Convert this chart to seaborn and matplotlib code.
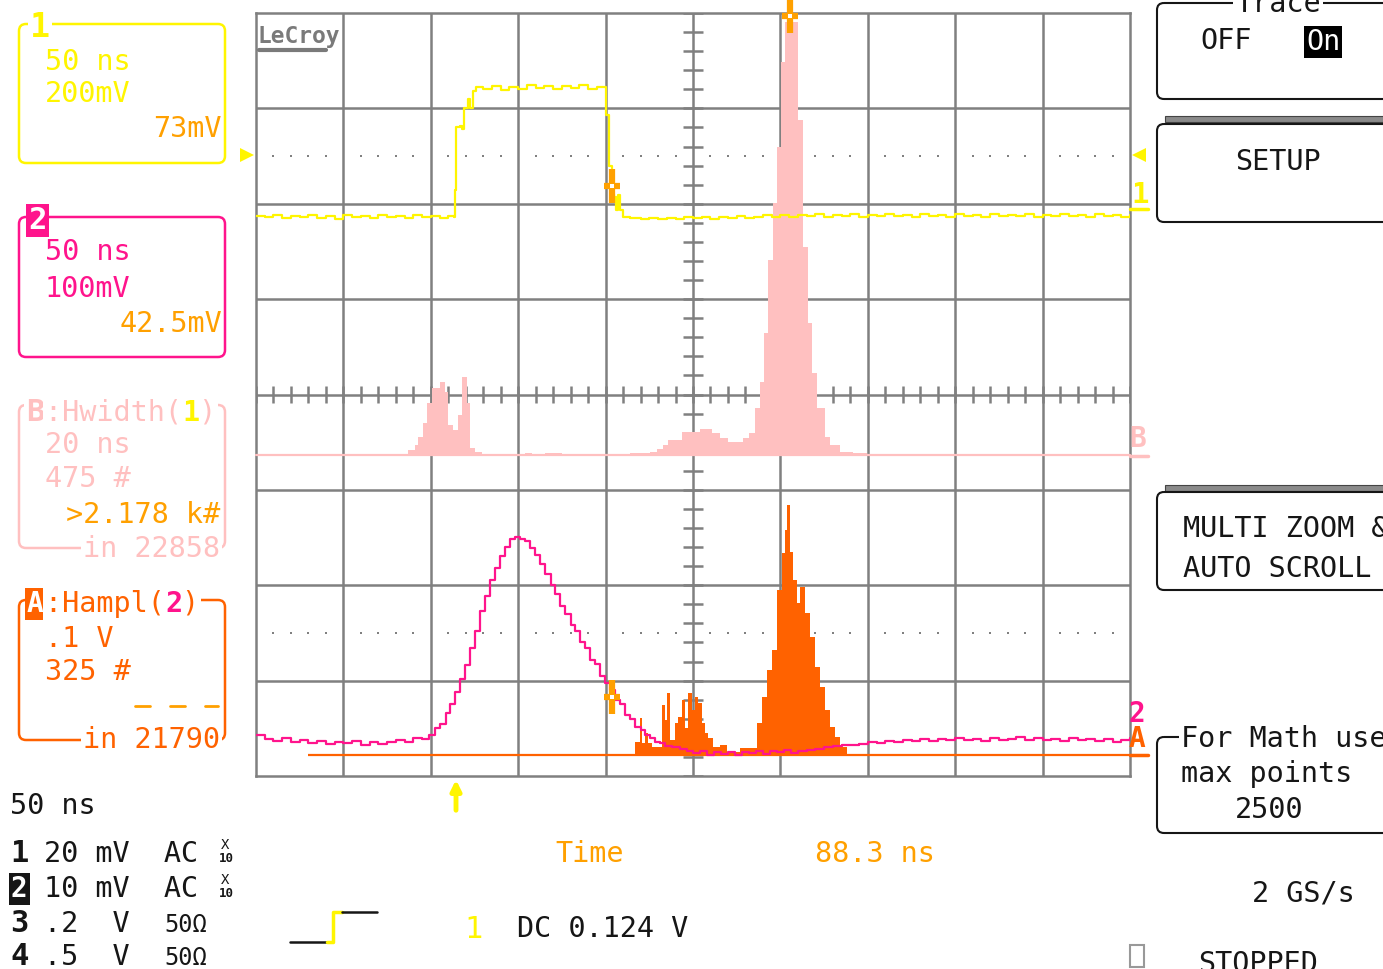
import numpy as np
import matplotlib
matplotlib.use('Agg')
import matplotlib.pyplot as plt
from matplotlib.patches import FancyBboxPatch, Rectangle
import seaborn as sns

sns.set_style('white')
plt.rcParams['font.family'] = ['DejaVu Sans Mono', 'DejaVu Sans']

### colours of the scope screen
YEL = '#FFF500'
MAG = '#FF148C'
ORA = '#FFA000'
HAM = '#FF6200'
PNK = '#FFC0C0'
GRD = '#808080'
INK = '#161616'

### data, x in screen divisions (50 ns/div), traces in divisions from the bottom

ch1_x = [0.00, 0.10, 0.20, 0.30, 0.40, 0.50, 0.60, 0.70, 0.80, 0.90, 1.00, 1.10, 1.20, 1.30,
         1.40, 1.50, 1.60, 1.70, 1.80, 1.90, 2.00, 2.10, 2.20, 2.27, 2.28, 2.29, 2.33, 2.36,
         2.38, 2.42, 2.45, 2.48, 2.52, 2.60, 2.70, 2.80, 2.90, 3.00, 3.10, 3.20, 3.30, 3.40,
         3.50, 3.60, 3.70, 3.80, 3.90, 4.00, 4.01, 4.04, 4.07, 4.10, 4.12, 4.14, 4.16, 4.20,
         4.28, 4.40, 4.50, 4.60, 4.70, 4.80, 4.90, 5.00, 5.10, 5.20, 5.30, 5.40, 5.50, 5.60,
         5.70, 5.80, 5.90, 6.00, 6.10, 6.20, 6.30, 6.40, 6.50, 6.60, 6.70, 6.80, 6.90, 7.00,
         7.10, 7.20, 7.30, 7.40, 7.50, 7.60, 7.70, 7.80, 7.90, 8.00, 8.10, 8.20, 8.30, 8.40,
         8.50, 8.60, 8.70, 8.80, 8.90, 9.00, 9.10, 9.20, 9.30, 9.40, 9.50, 9.60, 9.70, 9.80,
         9.90, 10.00]
ch1_y = [5.87, 5.86, 5.88, 5.85, 5.87, 5.86, 5.88, 5.85, 5.87, 5.84, 5.88, 5.86, 5.87, 5.85,
         5.88, 5.86, 5.87, 5.85, 5.88, 5.86, 5.87, 5.85, 5.87, 5.86, 6.14, 6.80, 6.82, 6.78,
         7.00, 7.10, 7.00, 7.18, 7.22, 7.20, 7.23, 7.19, 7.22, 7.20, 7.24, 7.21, 7.23, 7.20,
         7.23, 7.21, 7.24, 7.20, 7.22, 7.21, 6.93, 6.40, 6.10, 6.07, 5.93, 6.09, 5.93, 5.86,
         5.85, 5.84, 5.85, 5.84, 5.85, 5.84, 5.86, 5.85, 5.86, 5.84, 5.86, 5.85, 5.87, 5.85,
         5.86, 5.88, 5.86, 5.88, 5.86, 5.88, 5.87, 5.89, 5.86, 5.88, 5.87, 5.89, 5.86, 5.88,
         5.87, 5.89, 5.87, 5.88, 5.86, 5.89, 5.87, 5.88, 5.86, 5.89, 5.87, 5.88, 5.86, 5.89,
         5.87, 5.88, 5.87, 5.89, 5.86, 5.88, 5.87, 5.89, 5.87, 5.88, 5.86, 5.89, 5.87, 5.88,
         5.86, 5.88]

ch2_x = [0.00, 0.10, 0.20, 0.30, 0.40, 0.50, 0.60, 0.70, 0.80, 0.90, 1.00, 1.10, 1.20, 1.30,
         1.40, 1.50, 1.60, 1.70, 1.80, 1.90, 1.98, 2.05, 2.11, 2.17, 2.22, 2.28, 2.33, 2.39,
         2.45, 2.50, 2.56, 2.62, 2.68, 2.73, 2.79, 2.85, 2.91, 2.96, 3.02, 3.08, 3.14, 3.19,
         3.25, 3.31, 3.37, 3.42, 3.48, 3.54, 3.60, 3.65, 3.71, 3.76, 3.82, 3.88, 3.94, 3.99,
         4.05, 4.11, 4.17, 4.22, 4.28, 4.34, 4.40, 4.45, 4.51, 4.57, 4.62, 4.68, 4.76, 4.85,
         4.93, 5.00, 5.08, 5.16, 5.24, 5.32, 5.40, 5.48, 5.56, 5.64, 5.72, 5.80, 5.88, 5.96,
         6.04, 6.12, 6.20, 6.30, 6.40, 6.50, 6.60, 6.70, 6.80, 6.90, 7.00, 7.10, 7.20, 7.30,
         7.40, 7.50, 7.60, 7.70, 7.80, 7.90, 8.00, 8.10, 8.20, 8.30, 8.40, 8.50, 8.60, 8.70,
         8.80, 8.90, 9.00, 9.10, 9.20, 9.30, 9.40, 9.50, 9.60, 9.70, 9.80, 9.90, 10.00]
ch2_y = [0.43, 0.39, 0.37, 0.40, 0.36, 0.38, 0.35, 0.37, 0.34, 0.36, 0.35, 0.37, 0.33, 0.36,
         0.34, 0.36, 0.38, 0.36, 0.40, 0.39, 0.43, 0.50, 0.55, 0.66, 0.76, 0.88, 1.02, 1.16,
         1.34, 1.52, 1.73, 1.89, 2.05, 2.18, 2.31, 2.40, 2.48, 2.51, 2.49, 2.46, 2.39, 2.32,
         2.22, 2.12, 2.00, 1.91, 1.78, 1.70, 1.58, 1.52, 1.41, 1.34, 1.22, 1.17, 1.05, 0.97,
         0.90, 0.80, 0.76, 0.64, 0.60, 0.51, 0.48, 0.43, 0.40, 0.36, 0.35, 0.31, 0.30, 0.28,
         0.26, 0.24, 0.26, 0.22, 0.25, 0.23, 0.25, 0.22, 0.25, 0.24, 0.26, 0.23, 0.26, 0.25,
         0.27, 0.24, 0.26, 0.27, 0.28, 0.30, 0.31, 0.33, 0.32, 0.34, 0.36, 0.35, 0.37, 0.36,
         0.38, 0.37, 0.39, 0.37, 0.39, 0.38, 0.40, 0.38, 0.39, 0.37, 0.40, 0.38, 0.39, 0.41,
         0.38, 0.40, 0.38, 0.39, 0.37, 0.40, 0.38, 0.39, 0.37, 0.39, 0.36, 0.38, 0.40]

# B : Hwidth(1) histogram, 475 counts/div
hw_edges = [1.74, 1.82, 1.85, 1.91, 1.96, 2.01, 2.11, 2.16, 2.20, 2.25, 2.31, 2.36, 2.41,
            2.45, 2.51, 2.59, 3.08, 3.16, 3.31, 3.50, 4.02, 4.28, 4.51, 4.59, 4.66, 4.71,
            4.87, 5.08, 5.22, 5.31, 5.40, 5.57, 5.64, 5.71, 5.77, 5.81, 5.86, 5.92, 5.96,
            6.01, 6.05, 6.20, 6.26, 6.32, 6.36, 6.42, 6.51, 6.57, 6.68, 6.83, 6.99]
hw_counts = [25, 50, 90, 159, 259, 334, 363, 314, 149, 124, 199, 388, 259, 35, 15, 5, 10,
             5, 10, 5, 2, 10, 15, 30, 50, 75, 115, 129, 110, 85, 65, 85, 110, 234, 363, 607,
             971, 1255, 1534, 1957, 2156, 1668, 1036, 657, 408, 234, 90, 50, 15, 10]
hw_per_div = 475
hw_base = 3.365

# A : Hampl(2) histogram, 325 counts/div
ha_edges = [4.34, 4.39, 4.42, 4.45, 4.49, 4.53, 4.65, 4.68, 4.70, 4.74, 4.79, 4.83, 4.87,
            4.91, 4.94, 4.99, 5.02, 5.06, 5.10, 5.14, 5.17, 5.23, 5.31, 5.39, 5.54, 5.73,
            5.79, 5.85, 5.90, 5.96, 6.02, 6.05, 6.08, 6.11, 6.14, 6.19, 6.22, 6.28, 6.34,
            6.40, 6.45, 6.51, 6.57, 6.63, 6.68, 6.76]
ha_counts = [44, 126, 41, 75, 41, 27, 170, 119, 211, 51, 109, 129, 187, 92, 211, 153, 198,
             177, 109, 75, 58, 27, 34, 10, 24, 109, 198, 290, 358, 562, 688, 767, 852, 692,
             596, 518, 572, 484, 402, 300, 232, 153, 95, 61, 27]
ha_per_div = 325
ha_base = 0.22
ha_range = [0.6, 10.0]

cursor_x = [4.07, 6.11, 4.07]
cursor_y = [6.19, 7.97, 0.83]

### figure layout (pixel frame of the screenshot)
W, H = 1383, 969
fig = plt.figure(figsize=(W / 100, H / 100), dpi=100)
fig.patch.set_facecolor('white')

gx0, gx1, gy0, gy1 = 256, 1130, 13, 776
left, width = gx0 / W, (gx1 - gx0) / W
bottom, height = 1 - gy1 / H, (gy1 - gy0) / H

ax_g = fig.add_axes([left, bottom, width, height], zorder=1)
ax_b = fig.add_axes([left, bottom + hw_base / 8 * height, width, (8 - hw_base) / 8 * height], zorder=2)
ax_a = fig.add_axes([left, bottom + ha_base / 8 * height, width, (8 - ha_base) / 8 * height], zorder=3)
ax_t = fig.add_axes([left, bottom, width, height], zorder=4)
ov = fig.add_axes([0, 0, 1, 1], zorder=5)

### grid
ax_g.set_xlim(0, 10)
ax_g.set_ylim(0, 8)
ax_g.set_xticks([])
ax_g.set_yticks([])
for s in ax_g.spines.values():
    s.set_color(GRD)
    s.set_linewidth(1.8)
for i in range(1, 10):
    ax_g.axvline(i, color=GRD, lw=1.8)
for j in range(1, 8):
    ax_g.axhline(j, color=GRD, lw=1.8)
sub_x = np.arange(0, 10.01, 0.2)
sub_y = np.arange(0, 8.01, 0.2)
ax_g.vlines(sub_x, 4 - 0.085, 4 + 0.085, color=GRD, lw=1.8)
ax_g.hlines(sub_y, 5 - 0.115, 5 + 0.115, color=GRD, lw=1.8)
dots = [x for x in sub_x if abs(x - round(x)) > 0.05]
for yd in (6.5, 1.5):
    ax_g.plot(dots, [yd] * len(dots), ls='none', marker='s', ms=1.6, mew=0, color=GRD)

### histograms
centers_b = [(a + b) / 2 for a, b in zip(hw_edges[:-1], hw_edges[1:])]
sns.histplot(x=centers_b, weights=hw_counts, bins=hw_edges, element='step', fill=True,
             color=PNK, alpha=1, linewidth=0, ax=ax_b)
ax_b.axhline(0, color=PNK, lw=1.6, clip_on=False)
ax_b.set_xlim(0, 10)
ax_b.set_ylim(0, (8 - hw_base) * hw_per_div)
ax_b.axis('off')

centers_a = [(a + b) / 2 for a, b in zip(ha_edges[:-1], ha_edges[1:])]
sns.histplot(x=centers_a, weights=ha_counts, bins=ha_edges, element='step', fill=True,
             color=HAM, alpha=1, linewidth=0, ax=ax_a)
ax_a.hlines(0, ha_range[0], ha_range[1], color=HAM, lw=1.6, clip_on=False)
ax_a.set_xlim(0, 10)
ax_a.set_ylim(0, (8 - ha_base) * ha_per_div)
ax_a.axis('off')

### traces
sns.lineplot(x=ch1_x, y=ch1_y, color=YEL, lw=1.6, drawstyle='steps-post',
             estimator=None, sort=False, ax=ax_t)
sns.lineplot(x=ch2_x, y=ch2_y, color=MAG, lw=1.6, drawstyle='steps-post',
             estimator=None, sort=False, ax=ax_t)
for cx, cy in zip(cursor_x, cursor_y):
    ax_t.plot(cx, cy, marker='|', ms=25, mew=4.5, color=ORA, clip_on=False)
    ax_t.plot(cx, cy, marker='_', ms=11, mew=4.5, color=ORA, clip_on=False)
    ax_t.plot(cx, cy, marker='s', ms=2.6, mew=0, color='white', clip_on=False)
ax_t.set_xlim(0, 10)
ax_t.set_ylim(0, 8)
ax_t.axis('off')

### overlay: readouts and menus
ov.set_xlim(0, W)
ov.set_ylim(H, 0)
ov.axis('off')
ov.patch.set_visible(False)
FS = 20.5
CW = 0.602 * FS * 100 / 72


def txt(x, y, s, color=INK, size=FS, ha='left', bg=None, **kw):
    box = dict(fc=bg, ec='none', pad=1.5) if bg else None
    ov.text(x, y, s, color=color, fontsize=size, ha=ha, va='baseline', bbox=box, **kw)


def rbox(x, y, w, h, color, lw=1.8):
    ov.add_patch(FancyBboxPatch((x, y), w, h, boxstyle='round,pad=0,rounding_size=7',
                                fc='none', ec=color, lw=lw))


# channel 1 box
rbox(19, 24, 206, 139, YEL)
txt(30, 37, '1', YEL, 24, bg='white', fontweight='bold')
txt(45, 70, '50 ns', YEL)
txt(45, 102, '200mV', YEL)
txt(222, 137, '73mV', ORA, ha='right')

# channel 2 box
rbox(19, 217, 206, 140, MAG)
txt(28, 229, '2', 'white', 22, bg=MAG, fontweight='bold')
txt(45, 260, '50 ns', MAG)
txt(45, 297, '100mV', MAG)
txt(222, 332, '42.5mV', ORA, ha='right')

# B : Hwidth
rbox(19, 405, 206, 143, PNK)
txt(26, 421, 'B', PNK, 22, bg='white', fontweight='bold')
txt(45, 421, ':Hwidth( )', PNK, bg='white')
txt(45 + 8 * CW, 421, '1', YEL, fontweight='bold')
txt(45, 453, '20 ns', PNK)
txt(45, 487, '475 #', PNK)
txt(220, 523, '>2.178 k#', ORA, ha='right')
txt(220, 557, 'in 22858', PNK, ha='right', bg='white')

# A : Hampl
rbox(19, 600, 206, 140, HAM)
txt(27, 612, 'A', 'white', 20, bg=HAM, fontweight='bold')
txt(45, 612, ':Hampl( )', HAM, bg='white')
txt(45 + 7 * CW, 612, '2', MAG, fontweight='bold')
txt(45, 647, '.1 V', HAM)
txt(45, 680, '325 #', HAM)
for xa, xb in ((135, 150), (170, 185), (205, 218)):
    ov.plot([xa, xb], [706, 706], color=ORA, lw=2)
txt(220, 748, 'in 21790', HAM, ha='right', bg='white')

# bottom-left channel summary
txt(10, 814, '50 ns')
txt(10, 862, '1', size=22, fontweight='bold')
txt(44, 862, '20 mV  AC')
txt(11, 897, '2', 'white', 20, bg=INK, fontweight='bold')
txt(44, 897, '10 mV  AC')
for yb in (862, 897):
    txt(221, yb - 13, 'X', size=10)
    txt(219, yb, '10', size=9, fontweight='bold')
txt(10, 932, '3', size=22, fontweight='bold')
txt(44, 932, '.2  V')
txt(164, 932, '50Ω', size=17)
txt(10, 965, '4', size=22, fontweight='bold')
txt(44, 965, '.5  V')
txt(164, 965, '50Ω', size=17)

# time readout and trigger
txt(555, 862, 'Time', ORA)
txt(815, 862, '88.3 ns', ORA)
ov.plot([290, 327], [942, 942], color=INK, lw=1.8)
ov.plot([327, 333, 333, 342], [942, 942, 912, 912], color=YEL, lw=2.5)
ov.plot([342, 377], [912, 912], color=INK, lw=1.8)
txt(464, 938, '1', YEL, 22)
txt(517, 937, 'DC 0.124 V')
ov.annotate('', xy=(456, 777), xytext=(456, 813),
            arrowprops=dict(arrowstyle='-|>,head_width=0.3,head_length=0.6', color=YEL, lw=3.5))

# level markers round the grid
ov.plot(247, 155, marker='>', ms=10, color=YEL, mew=0)
ov.plot(1139, 155, marker='<', ms=10, color=YEL, mew=0)
txt(1131, 203, '1', YEL, 21, fontweight='bold')
ov.plot([1130, 1148], [209, 209], color=YEL, lw=2.5)
txt(1129, 447, 'B', PNK, 20, fontweight='bold')
ov.plot([1130, 1148], [456, 456], color=PNK, lw=2.5)
txt(1129, 722, '2', MAG, 20, fontweight='bold')
txt(1129, 747, 'A', HAM, 20, fontweight='bold')
ov.plot([1130, 1148], [755, 755], color=HAM, lw=2.5)

# LeCroy logo
txt(258, 43, 'LeCroy', '#7a7a7a', 16.5, fontweight='bold')
ov.plot([259, 326], [50, 50], color='#7a7a7a', lw=3)

# right menu
rbox(1157, 3, 300, 96, INK, 1.5)
txt(1278, 12, 'Trace', ha='center', bg='white')
txt(1200, 49, 'OFF')
txt(1306, 50, 'On', 'white', bg='black')
for ys in (116, 485):
    ov.add_patch(Rectangle((1165, ys), 230, 6, fc='#8a8a8a', ec='#444444', lw=0.8))
rbox(1157, 124, 300, 98, INK, 1.5)
txt(1235, 170, 'SETUP')
rbox(1157, 492, 300, 98, INK, 1.5)
txt(1183, 537, 'MULTI ZOOM &')
txt(1183, 577, 'AUTO SCROLL')
rbox(1157, 737, 300, 96, INK, 1.5)
txt(1181, 747, 'For Math use', bg='white')
txt(1181, 782, 'max points')
txt(1235, 818, '2500')

txt(1252, 902, '2 GS/s')
ov.add_patch(Rectangle((1130, 945), 14, 22, fc='none', ec='#999999', lw=1.5))
txt(1198, 972, 'STOPPED')

plt.savefig('out.png', dpi=100)
